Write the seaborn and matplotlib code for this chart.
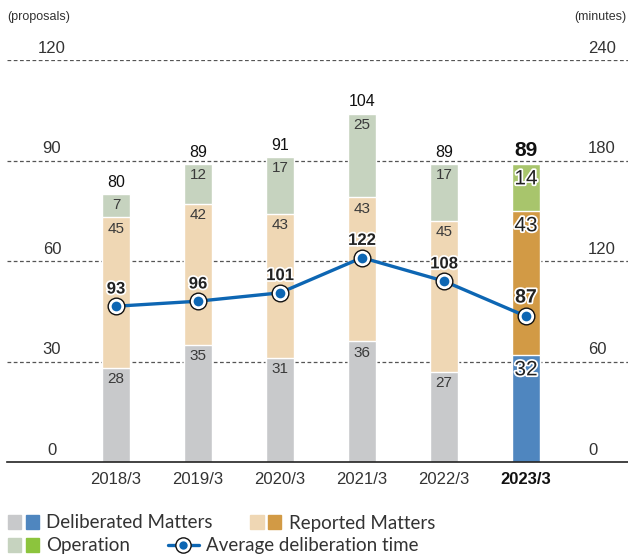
import numpy as np
import pandas as pd
import matplotlib
matplotlib.use("Agg")
import matplotlib.pyplot as plt
import matplotlib.patheffects as pe
from matplotlib.patches import Patch
from matplotlib.lines import Line2D
from matplotlib.legend_handler import HandlerTuple
import seaborn as sns

years = ["2018/3", "2019/3", "2020/3", "2021/3", "2022/3", "2023/3"]
deliberated = [28, 35, 31, 36, 27, 32]
reported = [45, 42, 43, 43, 45, 43]
operation = [7, 12, 17, 25, 17, 14]
totals = [80, 89, 91, 104, 89, 89]
avg_time = [93, 96, 101, 122, 108, 87]

left_ticks = [0, 30, 60, 90, 120]
right_ticks = [0, 60, 120, 180, 240]

# past years are muted, the latest year is highlighted
delib_colors = ["#c8c9cb"] * 5 + ["#4f86bf"]
report_colors = ["#efd7b4"] * 5 + ["#d29a45"]
oper_colors = ["#c6d3bf"] * 5 + ["#a8c56c"]
line_color = "#0d66b3"
text_color = "#333333"

sns.set_style("white")
plt.rcParams["font.family"] = ["Lato", "DejaVu Sans"]
narrow = ["Liberation Sans Narrow", "Liberation Sans", "DejaVu Sans"]

df = pd.DataFrame({
    "year": years,
    "delib": deliberated,
    "rep_cum": np.add(deliberated, reported),
    "total": np.add(np.add(deliberated, reported), operation),
})

fig = plt.figure(figsize=(6.28, 5.57), dpi=100)
ax = fig.add_axes([7 / 628, 1 - 462 / 557, 621 / 628, (462 - 60) / 557])

# stacked bars drawn as overlapping cumulative layers
for col, pal in [("total", oper_colors), ("rep_cum", report_colors), ("delib", delib_colors)]:
    sns.barplot(data=df, x="year", y=col, hue="year", palette=pal, dodge=False,
                width=0.33, legend=False, ax=ax, saturation=1, zorder=2)

ax.set_ylim(0, 120)
ax.set_xlim((7 - 116) / 82, (628 - 116) / 82)
ax.set_ylabel("")
ax.set_xlabel("")
ax.set_yticks([])
for s in ["top", "left", "right"]:
    ax.spines[s].set_visible(False)
ax.spines["bottom"].set_color("#222222")
ax.spines["bottom"].set_linewidth(1.2)
ax.spines["bottom"].set_zorder(5)

for v in left_ticks[1:]:
    ax.axhline(v, color="#555555", lw=0.9, ls=(0, (3, 2)), zorder=1)

ax.set_xticks(range(len(years)))
ax.set_xticklabels(years, fontsize=12, family=narrow, color=text_color)
ax.get_xticklabels()[-1].set_fontweight("bold")
ax.get_xticklabels()[-1].set_color("#111111")
ax.tick_params(axis="x", length=0, pad=7)

# left axis values sitting above their gridlines
for v in left_ticks:
    ax.annotate(str(v), xy=(52 / 628, v), xycoords=("figure fraction", "data"),
                xytext=(0, 3), textcoords="offset points", ha="center", va="bottom",
                fontsize=12, family=narrow, color=text_color)
for v in right_ticks:
    ax.annotate(str(v), xy=(588 / 628, v / 2), xycoords=("figure fraction", "data"),
                xytext=(0, 3), textcoords="offset points", ha="left", va="bottom",
                fontsize=12, family=narrow, color=text_color)

fig.text(7 / 628, 1 - 17 / 557, "(proposals)", fontsize=9, color=text_color,
         family=narrow, va="center", ha="left")
fig.text(626 / 628, 1 - 17 / 557, "(minutes)", fontsize=9, color=text_color,
         family=narrow, va="center", ha="right")

stroke = [pe.withStroke(linewidth=2.5, foreground="white")]
for i in range(len(years)):
    last = i == len(years) - 1
    fs = 15 if last else 11
    off = -4 if last else -3
    tops = [deliberated[i], deliberated[i] + reported[i], totals[i]]
    vals = [deliberated[i], reported[i], operation[i]]
    for top, val in zip(tops, vals):
        ax.annotate(str(val), xy=(i, top), xytext=(0, off), textcoords="offset points",
                    ha="center", va="top", fontsize=fs, color="#222222" if last else "#3a3a3a",
                    family=narrow, path_effects=stroke if last else None, zorder=6)
    ax.annotate(str(totals[i]), xy=(i, totals[i]), xytext=(0, 3), textcoords="offset points",
                ha="center", va="bottom", fontsize=15 if last else 11.5,
                fontweight="bold" if last else "medium", color="#111111", family=narrow)

# average deliberation time on the secondary axis
ax2 = ax.twinx()
ax2.set_ylim(0, 240)
ax2.set_yticks([])
for s in ax2.spines.values():
    s.set_visible(False)
xpos = np.arange(len(years))
sns.lineplot(x=xpos, y=avg_time, ax=ax2, color=line_color, lw=2.4, zorder=3)
ax2.plot(xpos, avg_time, "o", ms=12, mfc="white", mec="#111111", mew=1.0, zorder=4)
ax2.plot(xpos, avg_time, "o", ms=7, color=line_color, mew=0, zorder=5)
for i, v in enumerate(avg_time):
    last = i == len(years) - 1
    ax2.annotate(str(v), xy=(i, v), xytext=(0, 7), textcoords="offset points",
                 ha="center", va="bottom", fontsize=14 if last else 12,
                 fontweight="bold" if last else "semibold", color="#222222",
                 family=narrow, path_effects=stroke, zorder=6)
ax2.set_xlim(ax.get_xlim())

# legend: two rows, each with its own column positions
line_handle = (
    Line2D([0], [0], color=line_color, lw=2.4, marker="o", ms=11,
           mfc="white", mec="#111111", mew=1.0),
    Line2D([0], [0], ls="none", marker="o", ms=6, color=line_color, mew=0),
)
rows = [
    ([(Patch(color=delib_colors[0]), Patch(color=delib_colors[-1])),
      (Patch(color=report_colors[0]), Patch(color=report_colors[-1]))],
     ["Deliberated Matters", "Reported Matters"], 523),
    ([(Patch(color=oper_colors[0]), Patch(color="#8cc43d")), line_handle],
     ["Operation", "Average deliberation time"], 546),
]
for hs, ls_, ypix in rows:
    leg = fig.legend(hs, ls_, loc="center left", bbox_to_anchor=(8 / 628, 1 - ypix / 557),
                     ncol=2, frameon=False, fontsize=13.5,
                     handler_map={tuple: HandlerTuple(ndivide=None, pad=0.25),
                                  line_handle: HandlerTuple(ndivide=1, pad=0)},
                     handlelength=1.65, handleheight=0.75, columnspacing=2.0,
                     handletextpad=0.4, labelcolor=text_color, borderaxespad=0,
                     borderpad=0)

fig.savefig("out.png", dpi=100)
